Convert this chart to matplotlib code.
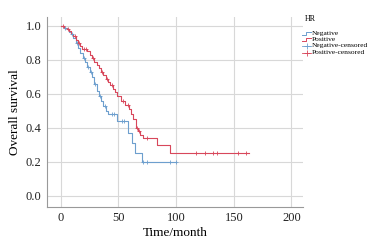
import matplotlib
matplotlib.use("Agg")
import matplotlib.pyplot as plt
import numpy as np
from matplotlib.lines import Line2D

plt.rcParams['font.family'] = ['Liberation Serif', 'DejaVu Serif']

# Kaplan-Meier step data (time in months, survival)
neg_t = [0, 3, 5, 7, 9, 11, 13, 15, 17, 19, 21, 23, 25, 27, 29, 31, 33, 35, 37, 39, 41, 49, 58, 62, 64, 70, 100]
neg_s = [1.0, 0.99, 0.98, 0.965, 0.95, 0.93, 0.90, 0.87, 0.84, 0.81, 0.79, 0.76, 0.73, 0.70, 0.66, 0.62, 0.59, 0.56, 0.53, 0.50, 0.48, 0.44, 0.37, 0.31, 0.25, 0.20, 0.20]
pos_t = [0, 3, 5, 7, 9, 11, 13, 15, 17, 18, 23, 25, 27, 29, 31, 33, 35, 37, 39, 41, 43, 45, 47, 49, 52, 56, 59, 61, 63, 65, 67, 69, 71, 83, 95, 163]
pos_s = [1.0, 0.99, 0.98, 0.97, 0.955, 0.94, 0.92, 0.90, 0.88, 0.865, 0.85, 0.83, 0.81, 0.79, 0.77, 0.75, 0.73, 0.71, 0.69, 0.67, 0.65, 0.63, 0.61, 0.59, 0.56, 0.535, 0.51, 0.48, 0.45, 0.40, 0.38, 0.36, 0.34, 0.30, 0.255, 0.255]
neg_cens = [4, 10, 14, 20, 24, 26, 30, 34, 38, 44, 46, 53, 55, 71, 75, 95, 100]
pos_cens = [2, 6, 12, 16, 20, 22, 28, 36, 40, 44, 54, 58, 66, 68, 75, 117, 125, 132, 135, 154, 161]
legend_title = 'HR'
legend_labels = ['Negative', 'Positive', 'Negative-censored', 'Positive-censored']

blue = '#6d9fce'
red = '#d8475b'
W, H = 385, 246

fig = plt.figure(figsize=(3.85, 2.46), dpi=100)
ax = fig.add_axes([0.122, 0.159, 0.665, 0.772])

def surv_at(ts, ss, x):
    idx = np.searchsorted(ts, x, side='right') - 1
    return np.array(ss)[idx]

ax.plot(neg_t, neg_s, drawstyle='steps-post', color=blue, lw=0.8)
ax.plot(pos_t, pos_s, drawstyle='steps-post', color=red, lw=0.8)
ax.plot(neg_cens, surv_at(neg_t, neg_s, neg_cens), '+', color=blue, ms=3, mew=0.6)
ax.plot(pos_cens, surv_at(pos_t, pos_s, pos_cens), '+', color=red, ms=3, mew=0.6)

ax.set_xlim(-12, 210)
ax.set_ylim(-0.065, 1.053)
ax.set_xticks([0, 50, 100, 150, 200])
ax.set_yticks([0.0, 0.2, 0.4, 0.6, 0.8, 1.0])
ax.set_yticklabels(['0.0', '0.2', '0.4', '0.6', '0.8', '1.0'])
ax.grid(True, color='#d8d8d8', lw=0.8)
ax.set_axisbelow(True)
for s in ['top', 'right']:
    ax.spines[s].set_visible(False)
for s in ['left', 'bottom']:
    ax.spines[s].set_color('#999999')
    ax.spines[s].set_linewidth(0.8)
ax.tick_params(length=0, labelsize=9, pad=4, colors='#222222')
ax.set_xlabel('Time/month', fontsize=9.5, labelpad=2)
ax.set_ylabel('Overall survival', fontsize=9.5, labelpad=3)

# manual compact legend (figure pixel coords)
def fx(px):
    return px / W
def fy(py):
    return 1 - py / H

fig.text(fx(305), fy(19), legend_title, fontsize=5.8, va='center', ha='left')
colors = [blue, red, blue, red]
ys = [33, 39.5, 46, 52.5]
for i, (lab, c, y) in enumerate(zip(legend_labels, colors, ys)):
    if i < 2:
        fig.add_artist(Line2D([fx(302), fx(306), fx(306), fx(311)],
                              [fy(y + 1.5), fy(y + 1.5), fy(y - 1.5), fy(y - 1.5)],
                              color=c, lw=0.7, transform=fig.transFigure))
    else:
        fig.add_artist(Line2D([fx(302), fx(311)], [fy(y), fy(y)],
                              color=c, lw=0.6, transform=fig.transFigure))
        fig.add_artist(Line2D([fx(306.5)], [fy(y)], marker='+', ms=4.5, mew=0.6,
                              color=c, transform=fig.transFigure))
    fig.text(fx(311.5), fy(y), lab, fontsize=5.4, va='center', ha='left')

fig.savefig('out.png', dpi=100)
